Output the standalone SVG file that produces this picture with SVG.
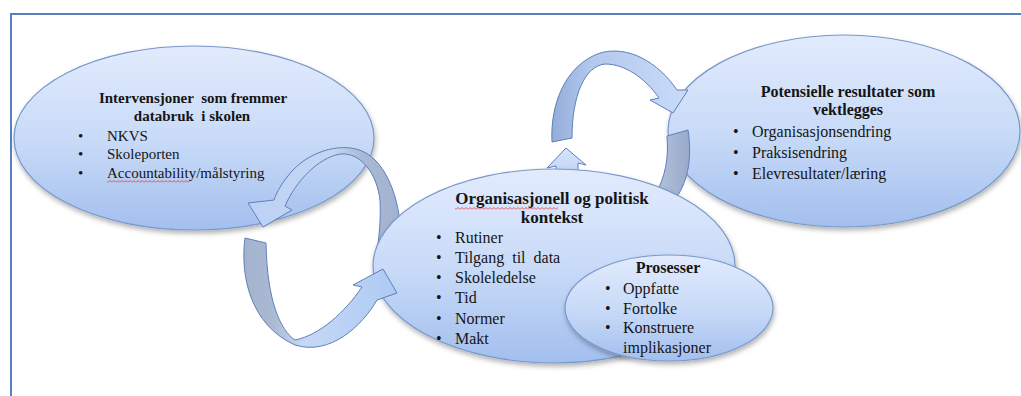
<svg xmlns="http://www.w3.org/2000/svg" width="1021" height="396" viewBox="0 0 1021 396">
<style>
.t{font-family:"Liberation Serif","Times New Roman",serif;fill:#151515}
.pre{white-space:pre}
.b{font-weight:bold}
.f15{font-size:15px}
.f16{font-size:16px}
.f17{font-size:17px}
.ell{fill:url(#gEll);stroke:#7898cc;stroke-width:1.2;filter:url(#sh)}
.arr{stroke:#5e80b8;stroke-width:1;stroke-linejoin:round}
.frame{stroke:#5583c2;stroke-width:2;fill:none}
</style>
<defs>
<linearGradient id="gEll" x1="0" y1="0" x2="0" y2="1">
<stop offset="0" stop-color="#e2ebfd"/>
<stop offset="0.5" stop-color="#c9dbf8"/>
<stop offset="1" stop-color="#a3bfee"/>
</linearGradient>
<linearGradient id="gA" gradientUnits="userSpaceOnUse" x1="248" y1="0" x2="402" y2="0">
<stop offset="0" stop-color="#bcd2f5"/>
<stop offset="0.55" stop-color="#c4d6f3"/>
<stop offset="0.75" stop-color="#a9b8d4"/>
<stop offset="1" stop-color="#a2b2cf"/>
</linearGradient>
<linearGradient id="gB" gradientUnits="userSpaceOnUse" x1="240" y1="0" x2="398" y2="0">
<stop offset="0" stop-color="#a3b2ce"/>
<stop offset="0.2" stop-color="#aab8d2"/>
<stop offset="0.4" stop-color="#c6d8f6"/>
<stop offset="1" stop-color="#aecaf4"/>
</linearGradient>
<linearGradient id="gC" gradientUnits="userSpaceOnUse" x1="550" y1="0" x2="690" y2="0">
<stop offset="0" stop-color="#93acd8"/>
<stop offset="0.3" stop-color="#b3c9ee"/>
<stop offset="1" stop-color="#c9dbf8"/>
</linearGradient>
<linearGradient id="gD" x1="0" y1="0" x2="1" y2="0">
<stop offset="0" stop-color="#b6c3dc"/>
<stop offset="1" stop-color="#97a9cb"/>
</linearGradient>
<linearGradient id="gU" x1="0" y1="0" x2="0" y2="1">
<stop offset="0" stop-color="#d6e4fb"/>
<stop offset="1" stop-color="#b4cbf1"/>
</linearGradient>
<filter id="sh" x="-10%" y="-10%" width="120%" height="130%">
<feDropShadow dx="1" dy="3" stdDeviation="2.5" flood-color="#000" flood-opacity="0.3"/>
</filter>
<pattern id="squig" width="4" height="3" patternUnits="userSpaceOnUse">
<path d="M0,2.5 L2,0.5 L4,2.5" fill="none" stroke="#e0302a" stroke-width="0.8"/>
</pattern>
</defs>

<rect width="1021" height="396" fill="#ffffff"/>
<g id="frame">
<path class="frame" d="M11,396 L11,14 L1021,14"/>
</g>

<g id="node-intervensjoner">
<ellipse class="ell" cx="194" cy="138" rx="180" ry="92"/>
<text class="t b f15 pre" x="193" y="103" text-anchor="middle">Intervensjoner  som fremmer</text>
<text class="t b f15 pre" x="192" y="121" text-anchor="middle">databruk  i skolen</text>
<text class="t f15" x="78" y="141">•</text>
<text class="t f15" x="107" y="141">NKVS</text>
<text class="t f15" x="78" y="159">•</text>
<text class="t f15" x="107" y="159">Skoleporten</text>
<text class="t f15" x="78" y="178">•</text>
<text class="t f15" x="107" y="178">Accountability/målstyring</text>
<rect x="107" y="180" width="83" height="3" fill="url(#squig)"/>
</g>

<g id="node-resultater">
<ellipse class="ell" cx="844" cy="131" rx="176" ry="96"/>
<text class="t b f16" x="848" y="97" text-anchor="middle">Potensielle resultater som</text>
<text class="t b f16" x="848" y="115" text-anchor="middle">vektlegges</text>
<text class="t f16" x="733" y="137">•</text>
<text class="t f16" x="752" y="137">Organisasjonsendring</text>
<text class="t f16" x="733" y="158">•</text>
<text class="t f16" x="752" y="158">Praksisendring</text>
<text class="t f16" x="733" y="179">•</text>
<text class="t f16" x="752" y="179">Elevresultater/læring</text>
</g>

<g id="connectors">
<path id="arrow-a" class="arr" fill="url(#gA)" d="M400,252 C404,215 392,168 366,153 C345,141 312,150 293,170 C283,181 277,191 274,200 L248,203 L263,227 L292,210 L285,206 C296,181 318,158 340,154 C362,152 377,175 380,200 C381,220 379,238 377,250 Z"/>
<path id="arrow-c" class="arr" fill="url(#gC)" d="M552,142 C550,105 565,65 600,53 C628,45 658,62 677,90 L688,90 L673,113 L650,100 L659,98 C645,78 625,64 605,64 C585,66 572,95 572,138 Z"/>
<path id="arrow-d" class="arr" fill="url(#gD)" d="M667,136 L688,130 C692,155 689,180 676,198 L655,195 C665,178 669,158 667,136 Z"/>
<path id="arrow-up" class="arr" fill="url(#gU)" d="M566,148 L586,165 L578,163 L578,190 L557,190 L556,166 L547,168 Z"/>
</g>

<g id="node-kontekst">
<ellipse class="ell" cx="554" cy="266" rx="181" ry="97"/>
<text class="t b f17" x="552" y="204" text-anchor="middle">Organisasjonell og politisk</text>
<rect x="455" y="207" width="103" height="3" fill="url(#squig)"/>
<text class="t b f17" x="552" y="223" text-anchor="middle">kontekst</text>
<text class="t f16" x="436" y="243">•</text>
<text class="t f16" x="455" y="243">Rutiner</text>
<text class="t f16" x="436" y="263">•</text>
<text class="t f16 pre" x="455" y="263">Tilgang  til  data</text>
<text class="t f16" x="436" y="283">•</text>
<text class="t f16" x="455" y="283">Skoleledelse</text>
<text class="t f16" x="436" y="303">•</text>
<text class="t f16" x="455" y="303">Tid</text>
<text class="t f16" x="436" y="324">•</text>
<text class="t f16" x="455" y="324">Normer</text>
<text class="t f16" x="436" y="344">•</text>
<text class="t f16" x="455" y="344">Makt</text>
</g>

<g id="node-prosesser">
<ellipse class="ell" cx="669" cy="308" rx="104" ry="53"/>
<text class="t b f16" x="668" y="273" text-anchor="middle">Prosesser</text>
<text class="t f16" x="605" y="294">•</text>
<text class="t f16" x="623" y="294">Oppfatte</text>
<text class="t f16" x="605" y="314">•</text>
<text class="t f16" x="623" y="314">Fortolke</text>
<text class="t f16" x="605" y="333">•</text>
<text class="t f16" x="623" y="333">Konstruere</text>
<text class="t f16" x="623" y="353">implikasjoner</text>
</g>

<g id="connectors-front">
<path id="arrow-b" class="arr" fill="url(#gB)" d="M245,238 C240,275 250,325 295,345 C330,356 362,326 377,300 L397,293 L383,269 L353,285 L362,287 C345,312 320,335 295,340 C280,330 267,300 266,243 Z"/>
</g>
</svg>
